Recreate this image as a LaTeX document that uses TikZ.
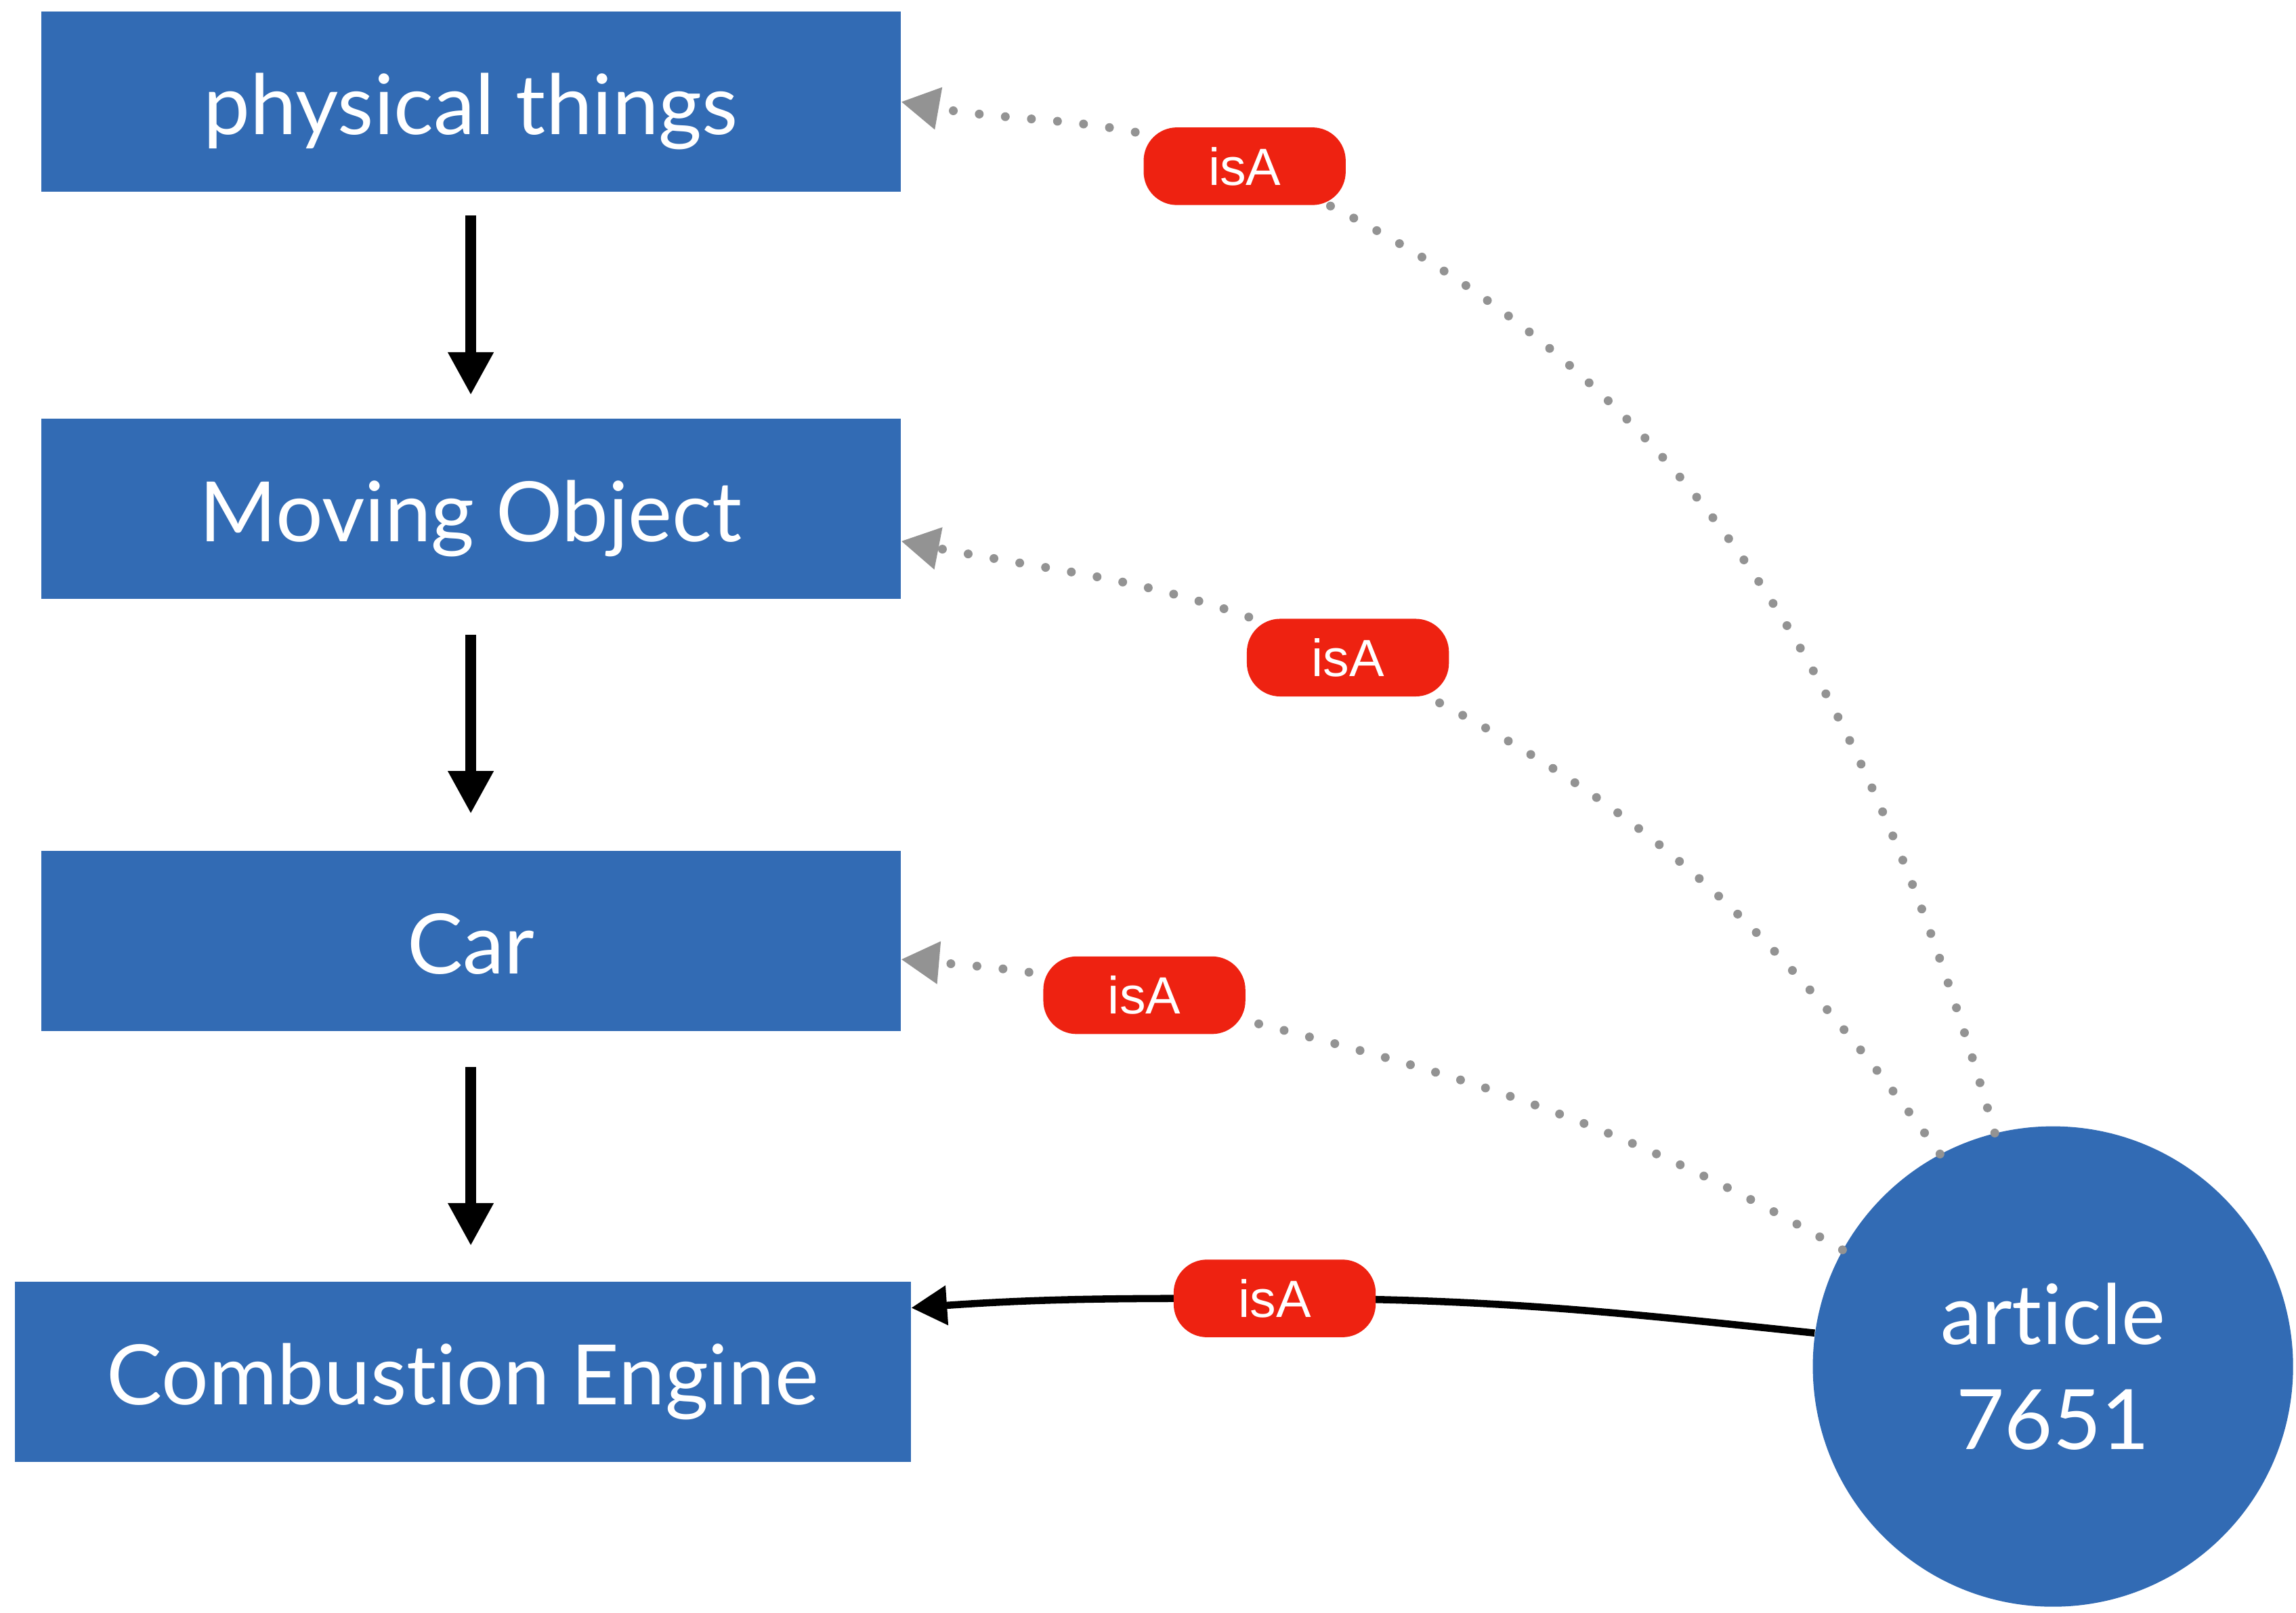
\documentclass[tikz,border=0pt]{standalone}
\usepackage{fontspec}
\setmainfont{Lato}[Ligatures=NoCommon]
\newfontfamily\labfont{Liberation Sans}
\usetikzlibrary{arrows.meta,calc}
\definecolor{boxblue}{RGB}{50,107,180}
\definecolor{isared}{RGB}{238,34,17}
\definecolor{dotgray}{RGB}{147,147,147}
\begin{document}
\begin{tikzpicture}[x=0.02162cm,y=0.02162cm,
  box/.style={fill=boxblue, text=white, inner sep=0pt, minimum height=123*0.02162cm,
    text height=27.7pt, text depth=0pt,
    font=\fontsize{35}{43}\selectfont},
  artnode/.style={circle, fill=boxblue, text=white, inner sep=0pt, minimum size=328*0.02162cm,
    align=center, font=\fontsize{35}{44}\selectfont},
  isa/.style={fill=isared, text=white, rounded corners=14pt, inner sep=0pt,
    minimum width=138*0.02162cm, minimum height=53*0.02162cm,
    font=\labfont\fontsize{22}{26}\selectfont},
  downarrow/.style={line width=4.5pt, -{Triangle[length=18pt,width=18pt]}},
  isadot/.style={draw=dotgray, line width=3.7pt, line cap=round, dash pattern=on 0pt off 11pt,
    -{Triangle[length=16pt,width=17pt,fill=dotgray,color=dotgray]}},
  isasolid/.style={draw=black, line width=3pt, -{Triangle[length=15pt,width=16pt]}}
]
\useasboundingbox (0,0) rectangle (1568,-1101);

\node[box, minimum width=587*0.02162cm] (pt) at (321.5,-69.5) {physical things};
\node[box, minimum width=587*0.02162cm] (pm) at (321.5,-347.5) {Moving Object};
\node[box, minimum width=587*0.02162cm] (car) at (321.5,-642.5) {Car};
\node[box, minimum width=612*0.02162cm] (ce) at (316,-936.5) {Combustion Engine};
\node[artnode] (art) at (1402,-933) {article\\7651};

\draw[downarrow, shorten <=9.8pt, shorten >=9.8pt] (pt.south) -- (pm.north);
\draw[downarrow, shorten <=14.8pt, shorten >=15.4pt] (pm.south) -- (car.north);
\draw[downarrow, shorten <=14.8pt, shorten >=14.8pt] (car.south) -- (car.south |- ce.north);

\coordinate (c1) at (850,-113.5);
\coordinate (c2) at (920.5,-449);
\coordinate (c3) at (781.5,-679.5);
\coordinate (c4) at (870.5,-886.5);

\draw[isadot] (art.104) to[out=106,in=-23] (c1) to[out=157,in=-10] (pt.east);
\draw[isadot] (art.118) to[out=126,in=-25] (c2) to[out=155,in=-11] ([yshift=-13.5pt]pm.east);
\draw[isadot] (art.151) to[out=150,in=-14] (c3) to[out=166,in=-5] ([yshift=-7.7pt]car.east);
\draw[isasolid] (art.172) to[out=174,in=0] (c4) to[out=180,in=4] ([yshift=26.8pt]ce.east);

\node[isa] (l1) at (c1) {isA};
\node[isa] (l2) at (c2) {isA};
\node[isa] (l3) at (c3) {isA};
\node[isa] (l4) at (c4) {isA};
\end{tikzpicture}
\end{document}
